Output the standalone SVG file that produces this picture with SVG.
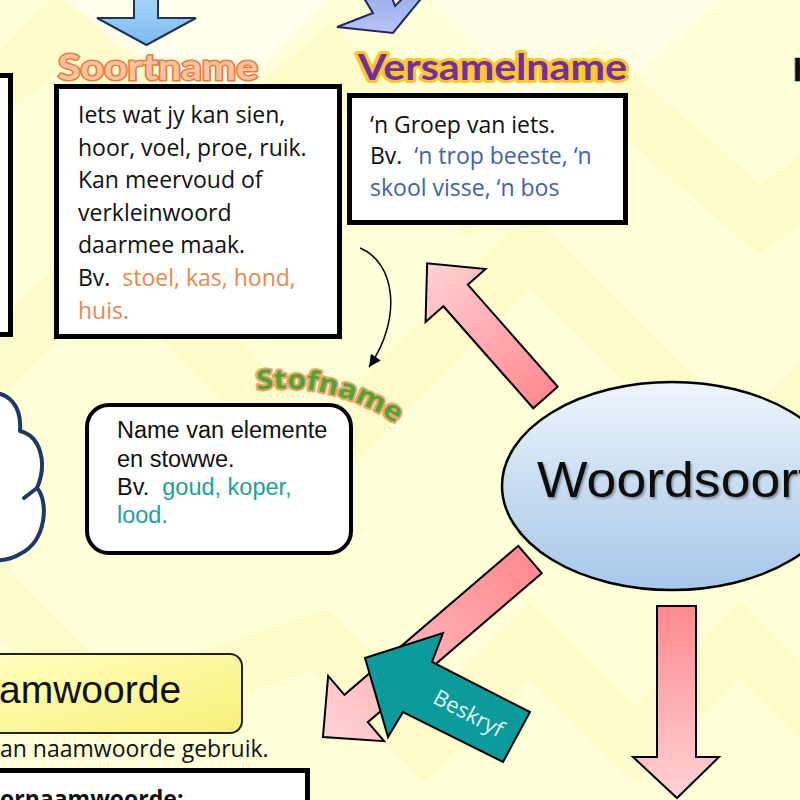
<svg xmlns="http://www.w3.org/2000/svg" width="800" height="800" viewBox="0 0 800 800">
<style>
.box{fill:#ffffff;stroke:#000000;stroke-width:5}
.body{font-family:"Open Sans","Liberation Sans",sans-serif;font-size:23px;fill:#111111}
.arial{font-family:"Liberation Sans",Arial,sans-serif;fill:#111111}
.title{font-family:Lato,"Open Sans",sans-serif;font-weight:bold;font-size:36px;paint-order:stroke}
.pink{stroke:#000000;stroke-width:2;stroke-linejoin:miter}
.band{fill:none;stroke:#FFF7B8;stroke-width:55;opacity:0.4;stroke-linejoin:miter}
</style>
<defs>
<linearGradient id="gPink" x1="0" y1="0" x2="1" y2="0">
<stop offset="0" stop-color="#FF8A90"/>
<stop offset="1" stop-color="#FFD2D5"/>
</linearGradient>
<linearGradient id="gPinkV" x1="0" y1="0" x2="0" y2="1">
<stop offset="0" stop-color="#FF8A90"/>
<stop offset="1" stop-color="#FFD2D5"/>
</linearGradient>
<linearGradient id="gBlue" x1="0" y1="0" x2="0" y2="1">
<stop offset="0" stop-color="#A8D6FA"/>
<stop offset="1" stop-color="#7FB9EE"/>
</linearGradient>
<linearGradient id="gPurple" x1="0" y1="0" x2="0" y2="1">
<stop offset="0" stop-color="#9DAEEE"/>
<stop offset="1" stop-color="#B7C4F3"/>
</linearGradient>
<linearGradient id="gEll" x1="0" y1="0" x2="0" y2="1">
<stop offset="0" stop-color="#EEF5FC"/>
<stop offset="0.55" stop-color="#C4DAF0"/>
<stop offset="1" stop-color="#A7C8EA"/>
</linearGradient>
<linearGradient id="gYel" x1="0" y1="0" x2="1" y2="1">
<stop offset="0" stop-color="#FFFFC0"/>
<stop offset="1" stop-color="#F8F07A"/>
</linearGradient>
<filter id="shadow" x="-5%" y="-20%" width="115%" height="150%">
<feDropShadow dx="1.5" dy="2" stdDeviation="1" flood-color="#000000" flood-opacity="0.35"/>
</filter>
<marker id="ah" viewBox="0 0 10 10" refX="10" refY="5" markerWidth="15" markerHeight="12" markerUnits="userSpaceOnUse" orient="auto">
<path d="M0,0 L10,5 L0,10 z" fill="#000000"/>
</marker>
<path id="stofPath" d="M 257 390 A 200 200 0 0 1 402 428"/>
</defs>

<g id="background">
<rect x="0" y="0" width="800" height="800" fill="#FFFFD8"/>
<polygon points="60,0 330,0 220,110" fill="#FFFFF0" opacity="0.8"/>
<polygon points="430,0 720,0 560,140" fill="#FFFFEC" opacity="0.8"/>
<polyline class="band" points="-100,460 110,250 320,460 530,250 740,460 950,250"/>
<polyline class="band" points="-100,500 110,710 320,640 425,745 530,640 635,745 740,640 900,800"/>
<polyline class="band" points="-60,140 60,30 200,170 330,60 470,200 600,80 760,220 900,110"/>
</g>

<g id="arrow-top-blue">
<polygon points="134,-5 158,-5 158,18 196,18 146.5,45 97,18 134,18" fill="url(#gBlue)" stroke="#1F3557" stroke-width="2"/>
</g>
<g id="arrow-top-purple">
<path d="M 362 -5 L 373 13 L 337 27 L 393 33 L 424 -5 L 406 -5 L 395 6 L 391 -5 Z" fill="url(#gPurple)" stroke="#1F2A5A" stroke-width="2" stroke-linejoin="miter"/>
</g>

<g id="node-left-box">
<rect class="box" x="-20" y="75.5" width="30.5" height="259"/>
</g>

<g id="node-soortname">
<text class="title" x="58" y="80" textLength="200" lengthAdjust="spacingAndGlyphs" fill="#FAC3A0" stroke="#E97A3E" stroke-width="3">Soortname</text>
<rect class="box" x="56.5" y="86.5" width="283" height="250"/>
<text class="body">
<tspan x="78" y="123">Iets wat jy kan sien,</tspan>
<tspan x="78" y="155.5">hoor, voel, proe, ruik.</tspan>
<tspan x="78" y="188">Kan meervoud of</tspan>
<tspan x="78" y="220.5">verkleinwoord</tspan>
<tspan x="78" y="253">daarmee maak.</tspan>
<tspan x="78" y="286">Bv.&#160; <tspan fill="#E6894F">stoel, kas, hond,</tspan></tspan>
<tspan x="78" y="318.5" fill="#E6894F">huis.</tspan>
</text>
</g>

<g id="node-versamelname">
<text class="title" x="358" y="80" textLength="269" lengthAdjust="spacingAndGlyphs" fill="#7030A0" stroke="#FFC52A" stroke-width="6" stroke-linejoin="round">Versamelname</text>
<rect class="box" x="349.5" y="95.5" width="276" height="127"/>
<text class="body">
<tspan x="370" y="133">&#8216;n Groep van iets.</tspan>
<tspan x="370" y="164">Bv.&#160; <tspan fill="#3F63A5">&#8216;n trop beeste, &#8216;n</tspan></tspan>
<tspan x="370" y="196" fill="#3F63A5">skool visse, &#8216;n bos</tspan>
</text>
</g>

<g id="node-h">
<text class="arial" x="793" y="81" font-size="33" font-weight="bold" fill="#1A1A2A" stroke="#9CC3E8" stroke-width="2" paint-order="stroke">H</text>
</g>

<g id="node-stofname">
<text font-family="'Open Sans','Liberation Sans',sans-serif" font-weight="bold" font-size="27" fill="#4FA636" stroke="#F2A46A" stroke-width="4" stroke-linejoin="round" paint-order="stroke"><textPath href="#stofPath" textLength="146" lengthAdjust="spacingAndGlyphs">Stofname</textPath></text>
<rect x="87" y="405" width="264" height="148" rx="22" fill="#ffffff" stroke="#000000" stroke-width="4"/>
<text class="arial" font-size="23.5">
<tspan x="117" y="438">Name van elemente</tspan>
<tspan x="117" y="467">en stowwe.</tspan>
<tspan x="117" y="495">Bv.&#160; <tspan fill="#1E9F9F">goud, koper,</tspan></tspan>
<tspan x="117" y="523" fill="#1E9F9F">lood.</tspan>
</text>
</g>

<g id="node-cloud">
<path d="M -10 393 C 8 392, 22 405, 20 431 C 40 436, 48 462, 37 488 C 48 500, 48 540, 20 554 C 10 560, 0 561, -10 560 Z" fill="#ffffff" stroke="#1F3864" stroke-width="4" stroke-linejoin="round"/>
<path d="M 37 488 L 24 498" fill="none" stroke="#1F3864" stroke-width="4" stroke-linecap="round"/>
</g>

<g id="connectors">
<path d="M 360 248 C 395 262, 403 318, 369 367" fill="none" stroke="#000000" stroke-width="1.5" marker-end="url(#ah)"/>
<g transform="translate(545.5,397.5) rotate(228.6)">
<polygon class="pink" points="0,-16.3 136,-16.3 136,-40 179,0 136,40 136,16.3 0,16.3" fill="url(#gPink)"/>
</g>
<g transform="translate(530,559.5) rotate(139.4)">
<polygon class="pink" points="0,-18 229,-18 229,-43 272.7,0 229,43 229,18 0,18" fill="url(#gPink)"/>
</g>
<polygon class="pink" points="657,606 696,606 696,757 719,757 677,798 633,757 657,757" fill="url(#gPinkV)"/>
</g>

<g id="node-beskryf">
<polygon points="365,658 443,633 432,662 530,712 503,762 403,712 388,737" fill="#0C9A9A" stroke="#000000" stroke-width="2"/>
<text transform="translate(465,720) rotate(28)" text-anchor="middle" font-family="'Open Sans','Liberation Sans',sans-serif" font-size="22" fill="#DDF6F6">Beskryf</text>
</g>

<g id="node-woordsoorte">
<ellipse cx="672" cy="486" rx="170" ry="104" fill="url(#gEll)" stroke="#000000" stroke-width="2.5"/>
<text class="arial" x="537" y="497" font-size="50" textLength="276" lengthAdjust="spacingAndGlyphs" fill="#0A0A0A" filter="url(#shadow)">Woordsoort</text>
</g>

<g id="node-naamwoorde">
<rect x="-20" y="654" width="262" height="79" rx="12" fill="url(#gYel)" stroke="#222222" stroke-width="2"/>
<text class="arial" x="-1" y="703" font-size="39">amwoorde</text>
<text class="body" x="0" y="757" font-size="24">an naamwoorde gebruik.</text>
</g>

<g id="node-voornaamwoorde">
<rect class="box" x="-10" y="770.5" width="317.5" height="60"/>
<text class="body" x="0" y="807" font-size="23" font-weight="bold">ornaamwoorde:</text>
</g>
</svg>
